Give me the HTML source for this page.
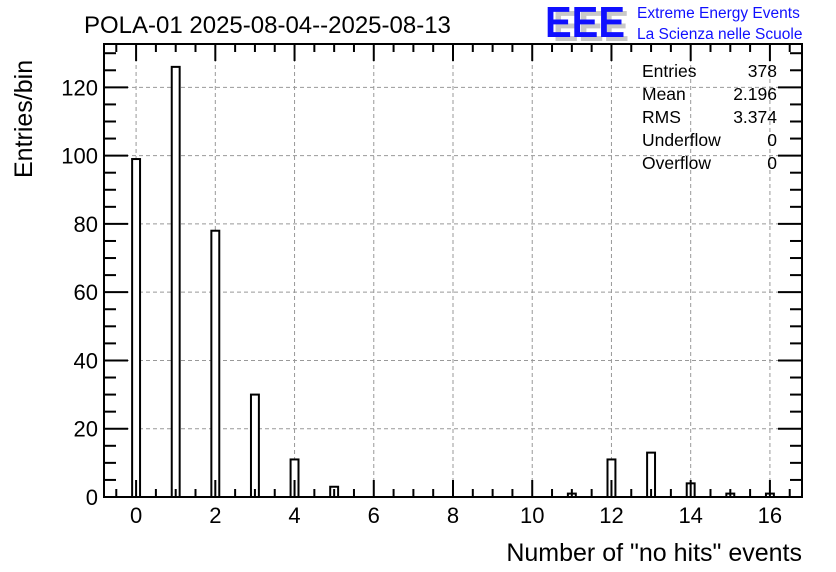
<!DOCTYPE html>
<html><head><meta charset="utf-8"><style>
html,body{margin:0;padding:0;background:#fff;}
svg{display:block;font-family:"Liberation Sans",sans-serif;}
</style></head><body>
<svg id="chart" width="836" height="572" viewBox="0 0 836 572">
<rect x="0" y="0" width="836" height="572" fill="#fff"/>
<text x="84" y="33" font-size="24">POLA-01 2025-08-04--2025-08-13</text>
<g>
<text x="553" y="41" font-size="44" fill="#c8c8c8" font-weight="bold" textLength="76" lengthAdjust="spacingAndGlyphs">EEE</text>
<text x="545" y="37" font-size="44" fill="#1010ff" font-weight="bold" textLength="80" lengthAdjust="spacingAndGlyphs">EEE</text>
<text x="637" y="18" font-size="15.5" fill="#1010ff">Extreme Energy Events</text>
<text x="637" y="39" font-size="15.5" fill="#1010ff">La Scienza nelle Scuole</text>
</g>
<g id="grid"></g>
<g id="bars"></g>
<g id="axes"></g>
<g font-size="17.5">
<text x="642" y="77">Entries</text><text x="777" y="77" text-anchor="end">378</text>
<text x="642" y="100">Mean</text><text x="777" y="100" text-anchor="end">2.196</text>
<text x="642" y="123">RMS</text><text x="777" y="123" text-anchor="end">3.374</text>
<text x="642" y="146">Underflow</text><text x="777" y="146" text-anchor="end">0</text>
<text x="642" y="169">Overflow</text><text x="777" y="169" text-anchor="end">0</text>
</g>
<text x="802" y="561" font-size="25" text-anchor="end">Number of "no hits" events</text>
<text transform="translate(32,178) rotate(-90)" font-size="25">Entries/bin</text>
</svg>
<script>
const categories = [0,1,2,3,4,5,11,12,13,14,15,16];
const counts = [99,126,78,30,11,3,1,11,13,4,1,1];
const xTickLabels = [0,2,4,6,8,10,12,14,16];
const yTickLabels = [0,20,40,60,80,100,120];

const L=104,R=802,T=44,B=497;
const xMin=-0.81,xMax=16.81,yMin=0,yMax=132.7;
const sx=v=>L+(v-xMin)/(xMax-xMin)*(R-L);
const sy=v=>B-(v-yMin)/(yMax-yMin)*(B-T);
const NS="http://www.w3.org/2000/svg";
function mk(tag,attrs,parent){const e=document.createElementNS(NS,tag);for(const k in attrs)e.setAttribute(k,attrs[k]);parent.appendChild(e);return e;}
const grid=document.getElementById('grid'),bars=document.getElementById('bars'),axes=document.getElementById('axes');

xTickLabels.forEach(v=>{
  const g=mk('line',{x1:sx(v),x2:sx(v),y1:T,y2:B,stroke:'#999','stroke-dasharray':'4,3','stroke-width':1},grid);
  
  
});
yTickLabels.forEach(v=>{
  const g=mk('line',{x1:L,x2:R,y1:sy(v),y2:sy(v),stroke:'#999','stroke-dasharray':'4,3','stroke-width':1},grid);
  
  
});

categories.forEach((c,i)=>{
  const x0=sx(c-0.1),x1=sx(c+0.1);
  const r=mk('rect',{x:x0,y:sy(counts[i]),width:x1-x0,height:B-sy(counts[i]),fill:'#fff',stroke:'#000','stroke-width':2},bars);
  
  
});

const frame=mk('rect',{x:L,y:T,width:R-L,height:B-T,fill:'none',stroke:'#000','stroke-width':2},axes);



// x ticks
for(let v=-0.5;v<=16.5;v+=0.5){
  const major=Math.abs(v-Math.round(v/2)*2)<1e-6;
  const len=major?17:8;
  mk('line',{x1:sx(v),x2:sx(v),y1:B,y2:B-len,stroke:'#000','stroke-width':2},axes);
  mk('line',{x1:sx(v),x2:sx(v),y1:T,y2:T+len,stroke:'#000','stroke-width':2},axes);
}
xTickLabels.forEach(v=>{
  const t=mk('text',{x:sx(v),y:B+26,'font-size':22,'text-anchor':'middle'},axes);
  t.textContent=v;
  
  
});
// y ticks
for(let v=0;v<=130;v+=5){
  const major=v%20===0;
  const len=major?24:12;
  mk('line',{x1:L,x2:L+len,y1:sy(v),y2:sy(v),stroke:'#000','stroke-width':2},axes);
  mk('line',{x1:R,x2:R-len,y1:sy(v),y2:sy(v),stroke:'#000','stroke-width':2},axes);
}
yTickLabels.forEach(v=>{
  const t=mk('text',{x:L-6,y:sy(v)+8,'font-size':22,'text-anchor':'end'},axes);
  t.textContent=v;
  
  
});
</script>
</body></html>
